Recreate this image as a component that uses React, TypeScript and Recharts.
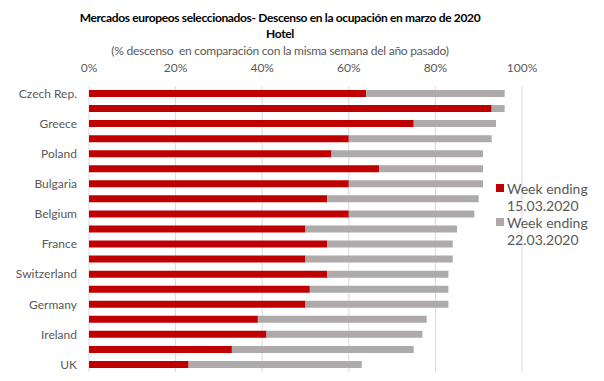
import React from 'react';
import { BarChart, Bar, XAxis, YAxis, CartesianGrid, Legend } from 'recharts';

const countries = [
  'Czech Rep.', 'Croatia', 'Greece', 'Hungary', 'Poland', 'Portugal', 'Bulgaria', 'Austria',
  'Belgium', 'Netherlands', 'France', 'Denmark', 'Switzerland', 'Sweden', 'Germany', 'Italy',
  'Ireland', 'Spain', 'UK',
];
// % decline vs same week last year
const week15 = [64, 93, 75, 60, 56, 67, 60, 55, 60, 50, 55, 50, 55, 51, 50, 39, 41, 33, 23];
const week22 = [96, 96, 94, 93, 91, 91, 91, 90, 89, 85, 84, 84, 83, 83, 83, 78, 77, 75, 63];
const xTicks = [0, 20, 40, 60, 80, 100];

const RED = '#C00000';
const GRAY = '#AEAAAA';
const TEXT = '#595959';
const FONT = 'Lato, "Open Sans", sans-serif';

// gray bar shows the 22.03 total, red sits at its start
const data = countries.map((name, i) => ({
  name,
  w15: week15[i],
  rest: week22[i] - week15[i],
}));

const legendItems = [
  { color: RED, lines: ['Week ending', '15.03.2020'] },
  { color: GRAY, lines: ['Week ending', '22.03.2020'] },
];

function LegendBox() {
  return (
    <div style={{ fontFamily: FONT, fontSize: 14, color: TEXT, lineHeight: '17px' }}>
      {legendItems.map((item) => (
        <div key={item.lines[1]} style={{ position: 'relative', paddingLeft: 11 }}>
          <span
            style={{
              position: 'absolute', left: 0, top: 4, width: 8, height: 8, background: item.color,
            }}
          />
          {item.lines.map((l) => (
            <div key={l}>{l}</div>
          ))}
        </div>
      ))}
    </div>
  );
}

export default function App() {
  return (
    <div style={{ position: 'absolute', left: 0, top: 0, width: 604, height: 381, background: '#fff' }}>
      <div
        style={{
          position: 'absolute', left: 0, top: 10, width: 560, textAlign: 'center',
          fontFamily: FONT, fontWeight: 700, fontSize: 12, letterSpacing: -0.35,
          lineHeight: '16px', color: '#000',
        }}
      >
        Mercados europeos seleccionados- Descenso en la ocupación en marzo de 2020
        <br />
        Hotel
      </div>
      <div
        style={{
          position: 'absolute', left: 0, top: 43, width: 560, textAlign: 'center',
          fontFamily: FONT, fontSize: 12, letterSpacing: -0.25, lineHeight: '16px', color: TEXT,
        }}
      >
        (% descenso&nbsp; en comparación con la misma semana del año pasado)
      </div>
      <BarChart
        width={604}
        height={381}
        data={data}
        layout="vertical"
        margin={{ top: 56, right: 82, bottom: 9, left: 0 }}
        barSize={7}
        style={{ position: 'absolute', left: 0, top: 0 }}
      >
        <CartesianGrid horizontal={false} stroke="#D9D9D9" />
        <XAxis
          type="number"
          orientation="top"
          domain={[0, 100]}
          ticks={xTicks}
          tickFormatter={(v) => `${v}%`}
          height={30}
          axisLine={false}
          tickLine={false}
          tickMargin={8}
          tick={{ fill: TEXT, fontSize: 12, fontFamily: FONT }}
        />
        <YAxis
          type="category"
          dataKey="name"
          width={89}
          interval={1}
          axisLine={false}
          tickLine={false}
          tickMargin={6}
          tick={{ fill: TEXT, fontSize: 12, fontFamily: FONT }}
        />
        <Legend
          layout="vertical"
          align="center"
          verticalAlign="middle"
          content={() => <LegendBox />}
          wrapperStyle={{ left: 496, top: 180, width: 105, height: 70 }}
        />
        <Bar dataKey="w15" stackId="a" fill={RED} isAnimationActive={false} />
        <Bar dataKey="rest" stackId="a" fill={GRAY} isAnimationActive={false} />
      </BarChart>
    </div>
  );
}
